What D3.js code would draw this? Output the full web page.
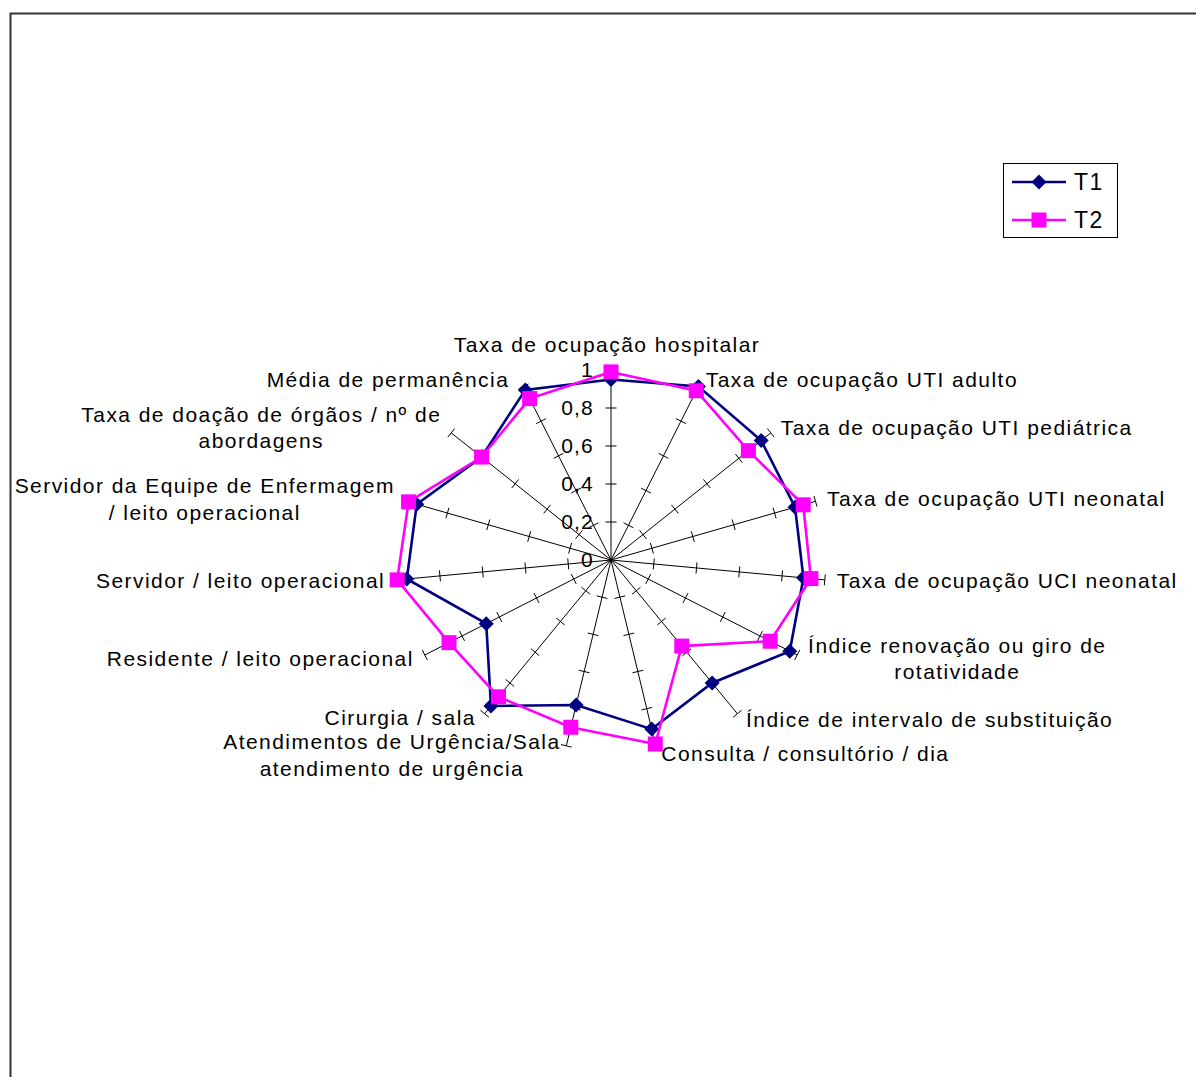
<!DOCTYPE html>
<html>
<head>
<meta charset="utf-8">
<script src="https://cdn.jsdelivr.net/npm/d3@7"></script>
<style>
  html, body { margin: 0; padding: 0; background: #fff; }
  svg { display: block; }
  text { font-family: "Liberation Sans", Arial, sans-serif; fill: #000; }
</style>
</head>
<body>
<svg id="chart" width="1196" height="1077"></svg>
<script>
// Indicator names (one per radar axis, clockwise from the top)
const categories = [
  ["Taxa de ocupação hospitalar"],
  ["Taxa de ocupação UTI adulto"],
  ["Taxa de ocupação UTI pediátrica"],
  ["Taxa de ocupação UTI neonatal"],
  ["Taxa de ocupação UCI neonatal"],
  ["Índice renovação ou giro de", "rotatividade"],
  ["Índice de intervalo de substituição"],
  ["Consulta / consultório / dia"],
  ["Atendimentos de Urgência/Sala", "atendimento de urgência"],
  ["Cirurgia / sala"],
  ["Residente / leito operacional"],
  ["Servidor / leito operacional"],
  ["Servidor da Equipe de Enfermagem", "/ leito operacional"],
  ["Taxa de doação de órgãos / nº de", "abordagens"],
  ["Média de permanência"]
];

// Normalised scores per period
const seriesNames = ["T1", "T2"];
const t1Values = [0.95, 1.00, 0.94, 0.90, 0.90, 0.96, 0.80, 0.91, 0.78, 0.95, 0.67, 0.955, 0.95, 0.81, 0.98];
const t2Values = [0.99, 0.975, 0.86, 0.94, 0.935, 0.855, 0.56, 0.99, 0.90, 0.89, 0.87, 1.00, 0.99, 0.81, 0.93];

// Radial axis ticks
const tickValues = [0, 0.2, 0.4, 0.6, 0.8, 1];
const tickLabels = ["0", "0,2", "0,4", "0,6", "0,8", "1"];

const seriesColors = ["#000080", "#ff00ff"];

const svg = d3.select("#chart");
const W = 1196, H = 1077;

// chart area frame
svg.append("rect")
  .attr("x", 10.5).attr("y", 13.5)
  .attr("width", W + 20).attr("height", H + 20)
  .attr("fill", "none").attr("stroke", "#333").attr("stroke-width", 2);

const cx = 611, cy = 560;
// the plot area is wider than tall, so the radial scale differs per direction
const rX = d3.scaleLinear().domain([0, 1]).range([0, 215]);
const rY = d3.scaleLinear().domain([0, 1]).range([0, 190]);
const n = categories.length;
const angle = d3.scaleLinear().domain([0, n]).range([0, 2 * Math.PI]);

function pos(i, v) {
  const a = angle(i);
  return [cx + rX(v) * Math.sin(a), cy - rY(v) * Math.cos(a)];
}

const g = svg.append("g");

// spokes with tick marks
categories.forEach((c, i) => {
  const [x1, y1] = pos(i, 1);
  g.append("line")
    .attr("x1", cx).attr("y1", cy).attr("x2", x1).attr("y2", y1)
    .attr("stroke", "#000").attr("stroke-width", 1);
  const dx = x1 - cx, dy = y1 - cy;
  const len = Math.hypot(dx, dy);
  const px = -dy / len, py = dx / len;
  tickValues.slice(1).forEach(t => {
    const [tx, ty] = pos(i, t);
    g.append("line")
      .attr("x1", tx - px * 5.5).attr("y1", ty - py * 5.5)
      .attr("x2", tx + px * 5.5).attr("y2", ty + py * 5.5)
      .attr("stroke", "#000").attr("stroke-width", 1);
  });
});

// value labels along the top spoke
tickValues.forEach((t, k) => {
  const [, ty] = pos(0, t);
  g.append("text")
    .attr("x", cx - 17).attr("y", ty)
    .attr("dy", "0.35em")
    .attr("text-anchor", "end")
    .style("font-size", "21px")
    .style("letter-spacing", "1.2px")
    .text(tickLabels[k]);
});

// category labels
const lineH = 26.5;
categories.forEach((lines, i) => {
  const a = angle(i);
  const s = Math.sin(a), c = Math.cos(a);
  const [ex, ey] = pos(i, 1);
  const lab = g.append("g");
  const texts = lines.map(l => lab.append("text")
    .style("font-size", "21px")
    .style("letter-spacing", "1.45px")
    .attr("dy", "0.35em")
    .text(l));
  const widths = texts.map(t => t.node().getComputedTextLength());
  const blockH = (lines.length - 1) * lineH;
  let centerX, centerY;
  if (Math.abs(s) < 0.01) {
    centerX = ex - 4;
    centerY = ey - 25;
  } else {
    // the label nearest the top on the left sits a little further out
    const off = 4 + 8 * Math.abs(s) + (s < 0 && c > 0.8 ? 7 : 0);
    // first line's near edge sits next to the spoke end
    centerX = s > 0 ? ex + off + widths[0] / 2 : ex - off - widths[0] / 2;
    centerY = ey - 7.5 * c;
    // the two crowded lower-left labels are pulled slightly apart
    if (s < 0 && c < -0.75) centerY += lines.length > 1 ? 2 : -2;
  }
  texts.forEach((t, k) => {
    let x, anchor;
    if (lines.length === 1 && Math.abs(s) >= 0.01) {
      anchor = s > 0 ? "start" : "end";
      x = s > 0 ? centerX - widths[0] / 2 : centerX + widths[0] / 2;
    } else {
      anchor = "middle";
      x = centerX;
    }
    t.attr("text-anchor", anchor)
      .attr("x", x)
      .attr("y", centerY - blockH / 2 + k * lineH);
  });
});

// series polygons and markers
const lineGen = d3.line().curve(d3.curveLinearClosed);
const allSeries = [t1Values, t2Values];
allSeries.forEach((vals, si) => {
  const pts = vals.map((v, i) => pos(i, v));
  g.append("path")
    .attr("d", lineGen(pts))
    .attr("fill", "none")
    .attr("stroke", seriesColors[si])
    .attr("stroke-width", 2.6)
    .attr("stroke-linejoin", "miter");
  pts.forEach(([x, y]) => {
    if (si === 0) {
      g.append("path")
        .attr("d", "M0,-7.5L7.5,0L0,7.5L-7.5,0Z")
        .attr("transform", `translate(${x},${y})`)
        .attr("fill", seriesColors[si]);
    } else {
      g.append("rect")
        .attr("x", x - 7.5).attr("y", y - 7.5)
        .attr("width", 15).attr("height", 15)
        .attr("fill", seriesColors[si]);
    }
  });
});

// legend
const lg = svg.append("g");
lg.append("rect")
  .attr("x", 1003.5).attr("y", 163.5).attr("width", 114).attr("height", 74)
  .attr("fill", "#fff").attr("stroke", "#000").attr("stroke-width", 1);
seriesNames.forEach((name, si) => {
  const y = 182 + si * 38;
  lg.append("line")
    .attr("x1", 1012).attr("x2", 1066).attr("y1", y).attr("y2", y)
    .attr("stroke", seriesColors[si]).attr("stroke-width", 2.6);
  if (si === 0) {
    lg.append("path")
      .attr("d", "M0,-7.5L7.5,0L0,7.5L-7.5,0Z")
      .attr("transform", `translate(1039,${y})`)
      .attr("fill", seriesColors[si]);
  } else {
    lg.append("rect")
      .attr("x", 1039 - 7.5).attr("y", y - 7.5).attr("width", 15).attr("height", 15)
      .attr("fill", seriesColors[si]);
  }
  lg.append("text")
    .attr("x", 1074).attr("y", y).attr("dy", "0.35em")
    .style("font-size", "23px")
    .style("letter-spacing", "1.5px")
    .text(name);
});
</script>
</body>
</html>
